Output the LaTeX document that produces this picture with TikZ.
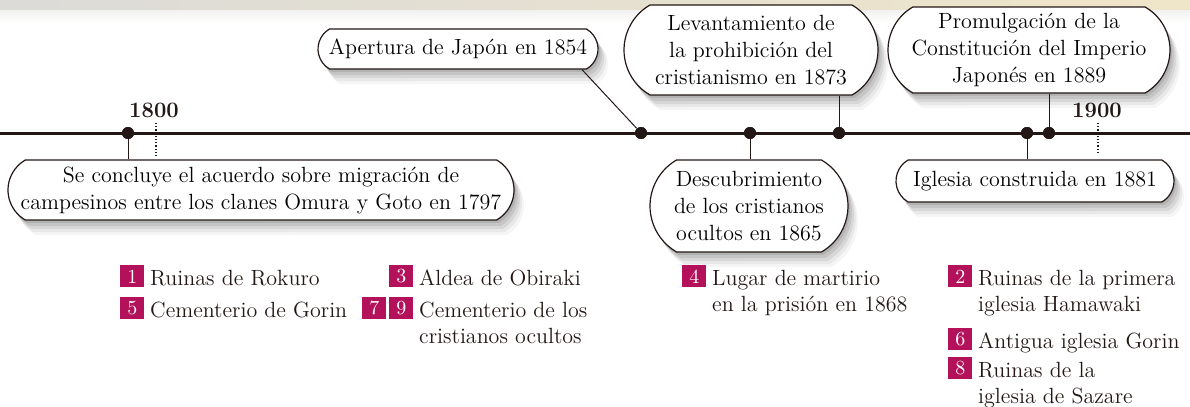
\documentclass[tikz,border=0pt]{standalone}
\usepackage{xcolor}
\usepackage{tikz}
\usetikzlibrary{shapes.misc,shadows,positioning}

\definecolor{linecol}{HTML}{231815}
\definecolor{numcol}{HTML}{B3125A}
\definecolor{bandgray}{HTML}{DCDBD8}
\definecolor{bandbeige}{HTML}{EFE5C9}

\newcommand{\leglines}[1]{\begin{tabular}[t]{@{}l@{}}#1\end{tabular}}

\tikzset{
  evbox/.style={draw=linecol, line width=0.6pt, fill=white, rounded rectangle,
    rounded rectangle arc length=120, align=center, inner sep=1pt,
    font=\fontsize{11}{13.5}\selectfont,
    drop shadow={shadow xshift=1pt, shadow yshift=-1.5pt, opacity=0.10, fill=black},
    drop shadow={shadow xshift=2pt, shadow yshift=-3pt, opacity=0.08, fill=black},
    drop shadow={shadow xshift=3pt, shadow yshift=-4.5pt, opacity=0.07, fill=black},
    drop shadow={shadow xshift=4pt, shadow yshift=-6pt, opacity=0.05, fill=black},
    drop shadow={shadow xshift=5pt, shadow yshift=-7.5pt, opacity=0.04, fill=black}},
  evdot/.style={circle, fill=linecol, inner sep=0pt, minimum size=6pt},
  conn/.style={draw=linecol, line width=0.5pt},
  yeartick/.style={draw=linecol, line width=0.6pt, densely dotted},
  yearlab/.style={font=\fontsize{11}{11}\selectfont\bfseries, text=linecol, anchor=base},
  numsq/.style={fill=numcol, text=white, anchor=north west, minimum width=12pt,
    minimum height=11pt, inner sep=0pt, font=\fontsize{10}{10}\selectfont},
  legtext/.style={anchor=base west, inner sep=0pt, text=linecol,
    font=\fontsize{11}{13}\selectfont}
}

\begin{document}
\begin{tikzpicture}[x=0.5pt,y=-0.5pt]
	\useasboundingbox (0,0) rectangle (1190,407);
	\fill[white] (0,0) rectangle (1190,407);
	\shade[left color=bandgray, right color=bandbeige] (0,0) rectangle (1190,10);
	\shade[top color=bandgray!40, bottom color=white] (0,10) rectangle (1190,22);

	\draw[linecol, line width=1.5pt] (0,133) -- (1190,133);

	\coordinate (y1800) at (156,133);
	\coordinate (y1900) at (1098,133);
	\draw[yeartick] ([yshift=5pt]y1800) -- ([yshift=-12pt]y1800);
	\draw[yeartick] ([yshift=5pt]y1900) -- ([yshift=-10pt]y1900);
	\node[yearlab] (l1800) at (154,117) {1800};
	\node[yearlab] (l1900) at (1097,117) {1900};

	\node[evdot] (d1797) at (128,133) {};
	\node[evdot] (d1854) at (641,133) {};
	\node[evdot] (d1865) at (750,133) {};
	\node[evdot] (d1873) at (839,133) {};
	\node[evdot] (d1881) at (1027,133) {};
	\node[evdot] (d1889) at (1049,133) {};

	\node[evbox, minimum width=255pt, minimum height=30pt] (b1797) at (261,190)
		{Se concluye el acuerdo sobre migración de\\campesinos entre los clanes Omura y Goto en 1797};
	\node[evbox, minimum width=142pt, minimum height=20pt] (b1854) at (458,49)
		{Apertura de Japón en 1854};
	\node[evbox, minimum width=101pt, minimum height=46pt] (b1865) at (749,206)
		{Descubrimiento\\de los cristianos\\ocultos en 1865};
	\node[evbox, minimum width=129pt, minimum height=45pt] (b1873) at (751,50)
		{Levantamiento de\\la prohibición del\\cristianismo en 1873};
	\node[evbox, minimum width=143pt, minimum height=43pt] (b1889) at (1029,50)
		{Promulgación de la\\Constitución del Imperio\\Japonés en 1889};
	\node[evbox, minimum width=141pt, minimum height=21pt] (b1881) at (1035,181)
		{Iglesia construida en 1881};

	\draw[conn] (d1797) -- (d1797 |- b1797.north);
	\draw[conn] (d1854) -- ([xshift=62pt]b1854.south);
	\draw[conn] (d1865) -- (d1865 |- b1865.north);
	\draw[conn] (d1873) -- (d1873 |- b1873.south);
	\draw[conn] (d1881) -- (d1881 |- b1881.north);
	\draw[conn] (d1889) -- (d1889 |- b1889.south);
	\foreach \d in {d1797,d1854,d1865,d1873,d1881,d1889}
		\node[evdot] at (\d) {};

	\node[numsq] (n1) at (120,265) {1};
	\node[numsq] (n5) at (120,297) {5};
	\node[numsq] (n3) at (389,265) {3};
	\node[numsq] (n7) at (362,297) {7};
	\node[numsq] (n9) at (389,297) {9};
	\node[numsq] (n4) at (682,265) {4};
	\node[numsq] (n2) at (948,265) {2};
	\node[numsq] (n6) at (948,328) {6};
	\node[numsq] (n8) at (948,357) {8};

	\node[legtext] (t1) at ([xshift=2.5pt,yshift=1pt]n1.south east) {Ruinas de Rokuro};
	\node[legtext] (t5) at ([xshift=2.5pt,yshift=1pt]n5.south east) {Cementerio de Gorin};
	\node[legtext] (t3) at ([xshift=2.5pt,yshift=1pt]n3.south east) {Aldea de Obiraki};
	\node[legtext] (t9) at ([xshift=2.5pt,yshift=1pt]n9.south east) {\leglines{Cementerio de los\\cristianos ocultos}};
	\node[legtext] (t4) at ([xshift=2.5pt,yshift=1pt]n4.south east) {\leglines{Lugar de martirio\\en la prisión en 1868}};
	\node[legtext] (t2) at ([xshift=2.5pt,yshift=1pt]n2.south east) {\leglines{Ruinas de la primera\\iglesia Hamawaki}};
	\node[legtext] (t6) at ([xshift=2.5pt,yshift=1pt]n6.south east) {Antigua iglesia Gorin};
	\node[legtext] (t8) at ([xshift=2.5pt,yshift=1pt]n8.south east) {\leglines{Ruinas de la\\iglesia de Sazare}};
\end{tikzpicture}
\end{document}
